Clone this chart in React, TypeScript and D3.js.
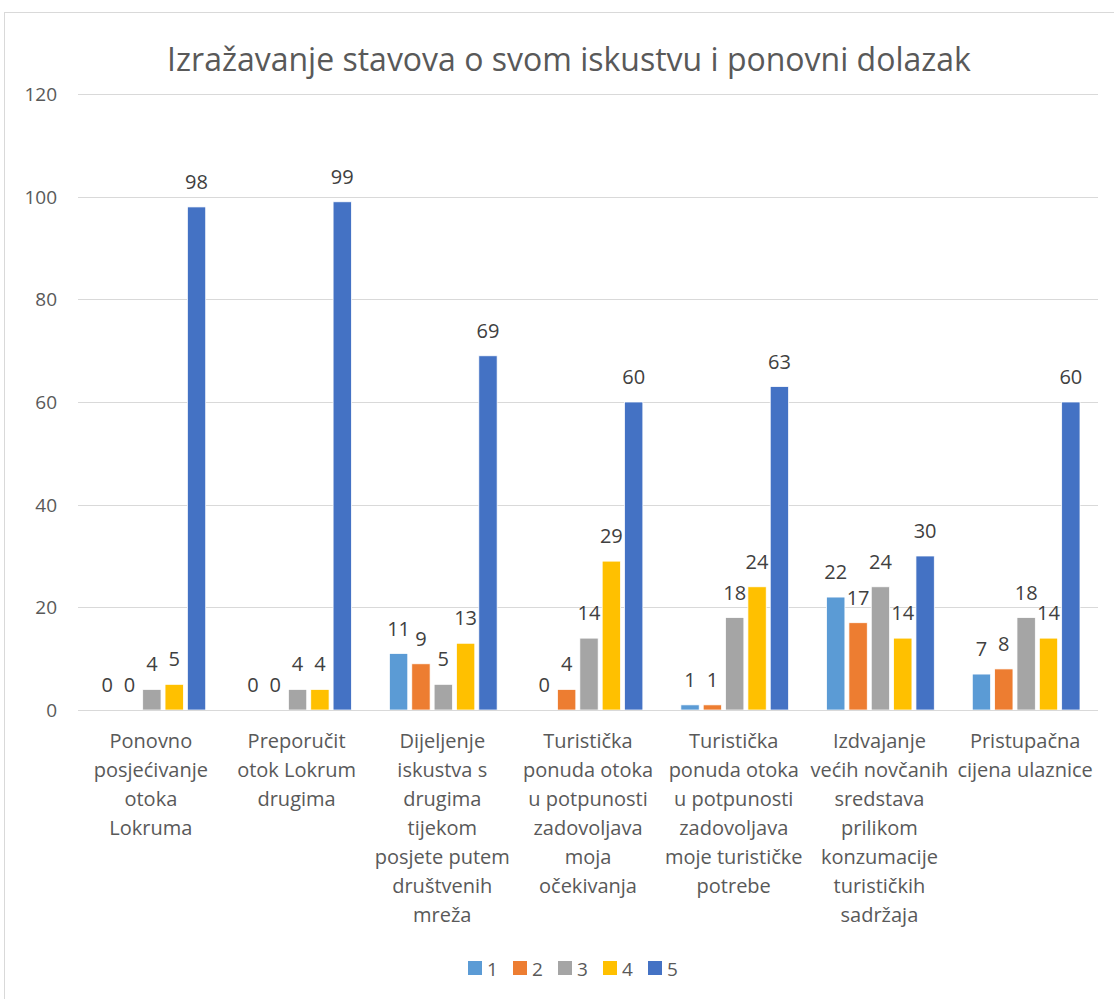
import { useEffect, useRef } from 'react';
import * as d3 from 'd3';

const categories = [
  ['Ponovno', 'posjećivanje', 'otoka', 'Lokruma'],
  ['Preporučit', 'otok Lokrum', 'drugima'],
  ['Dijeljenje', 'iskustva s', 'drugima', 'tijekom', 'posjete putem', 'društvenih', 'mreža'],
  ['Turistička', 'ponuda otoka', 'u potpunosti', 'zadovoljava', 'moja', 'očekivanja'],
  ['Turistička', 'ponuda otoka', 'u potpunosti', 'zadovoljava', 'moje turističke', 'potrebe'],
  ['Izdvajanje', 'većih novčanih', 'sredstava', 'prilikom', 'konzumacije', 'turističkih', 'sadržaja'],
  ['Pristupačna', 'cijena ulaznice'],
];

const seriesNames = ['1', '2', '3', '4', '5'];
const seriesColors = ['#5B9BD5', '#ED7D31', '#A5A5A5', '#FFC000', '#4472C4'];

// values per series, one entry per category
const s1 = [0, 0, 11, 0, 1, 22, 7];
const s2 = [0, 0, 9, 4, 1, 17, 8];
const s3 = [4, 4, 5, 14, 18, 24, 18];
const s4 = [5, 4, 13, 29, 24, 14, 14];
const s5 = [98, 99, 69, 60, 63, 30, 60];
const seriesValues = [s1, s2, s3, s4, s5];

const yTicks = [0, 20, 40, 60, 80, 100, 120];
const title = 'Izražavanje stavova o svom iskustvu i ponovni dolazak';

const W = 1114;
const H = 999;
const FONT = "'Open Sans', 'Liberation Sans', sans-serif";

export default function App() {
  const svgRef = useRef<SVGSVGElement>(null);

  useEffect(() => {
    const svg = d3.select(svgRef.current);
    svg.selectAll('*').remove();

    const left = 78;
    const right = 1098;
    const top = 94;
    const bottom = 710;

    // chart border
    svg.append('rect')
      .attr('x', 4.5).attr('y', 12.5)
      .attr('width', W + 20).attr('height', H)
      .attr('fill', '#fff')
      .attr('stroke', '#D9D9D9');

    svg.append('text')
      .attr('x', 569).attr('y', 71)
      .attr('text-anchor', 'middle')
      .attr('font-family', FONT)
      .attr('font-size', 32)
      .attr('fill', '#595959')
      .text(title);

    const y = d3.scaleLinear().domain([0, 120]).range([bottom, top]);
    const x0 = d3.scaleBand<number>()
      .domain(d3.range(categories.length))
      .range([left, right]);
    const x1 = d3.scaleBand<number>()
      .domain(d3.range(seriesNames.length))
      .range([18, x0.bandwidth() - 16])
      .paddingInner(0.18)
      .paddingOuter(0.09);

    // gridlines + y labels
    const grid = svg.append('g');
    yTicks.forEach(t => {
      grid.append('line')
        .attr('x1', left).attr('x2', right)
        .attr('y1', Math.round(y(t)) + 0.5).attr('y2', Math.round(y(t)) + 0.5)
        .attr('stroke', '#D9D9D9')
        .attr('stroke-width', 1);
      grid.append('text')
        .attr('x', 57).attr('y', y(t) + 7)
        .attr('text-anchor', 'end')
        .attr('font-family', FONT)
        .attr('font-size', 19)
        .attr('fill', '#595959')
        .text(t);
    });

    // bars
    const bars = svg.append('g');
    seriesValues.forEach((vals, si) => {
      vals.forEach((v, ci) => {
        const bx = (x0(ci) as number) + (x1(si) as number);
        bars.append('rect')
          .attr('x', bx)
          .attr('y', y(v))
          .attr('width', x1.bandwidth())
          .attr('height', bottom - y(v))
          .attr('fill', seriesColors[si])
          .attr('stroke', '#fff')
          .attr('stroke-width', 0.75);
        bars.append('text')
          .attr('x', bx + x1.bandwidth() / 2)
          .attr('y', y(v) - 18)
          .attr('text-anchor', 'middle')
          .attr('font-family', FONT)
          .attr('font-size', 20)
          .attr('fill', '#404040')
          .text(v);
      });
    });

    // axis line over the bars
    svg.append('line')
      .attr('x1', left).attr('x2', right)
      .attr('y1', bottom + 0.5).attr('y2', bottom + 0.5)
      .attr('stroke', '#D9D9D9');

    // category labels
    const labels = svg.append('g');
    categories.forEach((lines, ci) => {
      const cx = (x0(ci) as number) + x0.bandwidth() / 2;
      const t = labels.append('text')
        .attr('text-anchor', 'middle')
        .attr('font-family', FONT)
        .attr('font-size', 20)
        .attr('fill', '#595959');
      lines.forEach((ln, li) => {
        t.append('tspan')
          .attr('x', cx)
          .attr('y', 748 + li * 29)
          .text(ln);
      });
    });

    // legend
    const legend = svg.append('g');
    seriesNames.forEach((name, i) => {
      const lx = 468 + i * 45;
      legend.append('rect')
        .attr('x', lx).attr('y', 961)
        .attr('width', 14).attr('height', 14)
        .attr('fill', seriesColors[i]);
      legend.append('text')
        .attr('x', lx + 19).attr('y', 976)
        .attr('font-family', FONT)
        .attr('font-size', 19)
        .attr('fill', '#595959')
        .text(name);
    });
  }, []);

  return (
    <svg
      ref={svgRef}
      width={W}
      height={H}
      style={{ position: 'absolute', left: 0, top: 0, background: '#fff' }}
    />
  );
}
